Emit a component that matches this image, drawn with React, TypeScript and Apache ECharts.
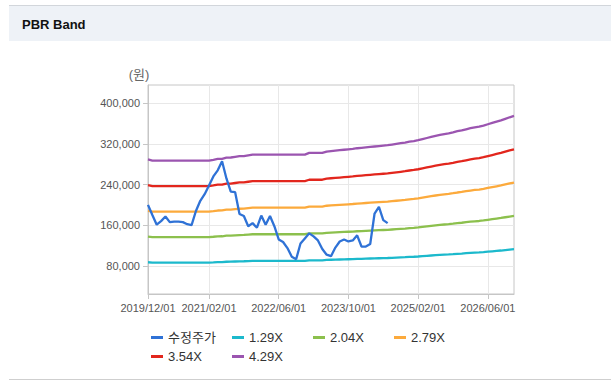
import React, { useEffect, useRef } from "react";
import * as echarts from "echarts";

// Monthly categories (x axis)
const months: string[] = [
  "2019/12/01",
  "2020/01/01","2020/02/01","2020/03/01","2020/04/01","2020/05/01","2020/06/01","2020/07/01","2020/08/01","2020/09/01","2020/10/01","2020/11/01","2020/12/01",
  "2021/01/01","2021/02/01","2021/03/01","2021/04/01","2021/05/01","2021/06/01","2021/07/01","2021/08/01","2021/09/01","2021/10/01","2021/11/01","2021/12/01",
  "2022/01/01","2022/02/01","2022/03/01","2022/04/01","2022/05/01","2022/06/01","2022/07/01","2022/08/01","2022/09/01","2022/10/01","2022/11/01","2022/12/01",
  "2023/01/01","2023/02/01","2023/03/01","2023/04/01","2023/05/01","2023/06/01","2023/07/01","2023/08/01","2023/09/01","2023/10/01","2023/11/01","2023/12/01",
  "2024/01/01","2024/02/01","2024/03/01","2024/04/01","2024/05/01","2024/06/01","2024/07/01","2024/08/01","2024/09/01","2024/10/01","2024/11/01","2024/12/01",
  "2025/01/01","2025/02/01","2025/03/01","2025/04/01","2025/05/01","2025/06/01","2025/07/01","2025/08/01","2025/09/01","2025/10/01","2025/11/01","2025/12/01",
  "2026/01/01","2026/02/01","2026/03/01","2026/04/01","2026/05/01","2026/06/01","2026/07/01","2026/08/01","2026/09/01","2026/10/01","2026/11/01","2026/12/01",
];

// Tick labels shown on the x axis
const xTickLabels: string[] = ["2019/12/01", "2021/02/01", "2022/06/01", "2023/10/01", "2025/02/01", "2026/06/01"];

// Y axis tick labels (원)
const yTicks: number[] = [80000, 160000, 240000, 320000, 400000];

// Adjusted stock price (수정주가), monthly
const price: number[] = [
  200000, 180000, 161000, 168000, 177000, 166000, 167000, 167000, 166000, 162000,
  160000, 188000, 208000, 221000, 238000, 256000, 268000, 286000, 252000, 226000,
  225000, 182000, 178000, 158000, 164000, 155000, 179000, 161000, 178000, 158000,
  132000, 127000, 115000, 98000, 93000, 124000, 134000, 144000, 138000, 130000,
  113000, 102000, 99000, 116000, 128000, 132000, 128000, 130000, 140000, 118000,
  118000, 123000, 183000, 196000, 170000, 164000,
];

// BPS (book value per share) path behind the bands, monthly
const bps: number[] = [
  67500, 66950, 66950, 66950, 66950, 66950, 66950, 66950, 66950, 66950,
  66950, 66950, 66950, 66950, 66950, 67300, 67700, 67750, 68300, 68350,
  68650, 68950, 69000, 69350, 69700, 69700, 69700, 69700, 69700, 69700,
  69700, 69700, 69700, 69700, 69700, 69700, 69700, 70470, 70470, 70470,
  70470, 71070, 71300, 71500, 71700, 71900, 72100, 72300, 72600, 72800,
  73000, 73200, 73400, 73600, 73800, 74000, 74300, 74600, 74900, 75200,
  75600, 75900, 76300, 76800, 77300, 77800, 78300, 78700, 79100, 79450,
  79900, 80400, 80800, 81300, 81800, 82200, 82500, 83000, 83600, 84200,
  84800, 85400, 86100, 86800, 87400,
];

// PBR multiples of the bands
const multiples: number[] = [1.29, 2.04, 2.79, 3.54, 4.29];
const bandColors: string[] = ["#1cb9cc", "#8cc04d", "#fcaa3c", "#e2261d", "#9b55b0"];
const priceName = "수정주가";
const priceColor = "#2f72d6";

const FONT = '"Liberation Sans", Arial, "Noto Sans CJK KR", sans-serif';

export default function App() {
  const ref = useRef<HTMLDivElement>(null);

  useEffect(() => {
    if (!ref.current) return;
    const chart = echarts.init(ref.current, undefined, { renderer: "svg" });

    const tickIdx = new Set(xTickLabels.map((d) => months.indexOf(d)));
    const showTick = (i: number) => tickIdx.has(i);

    const bandNames = multiples.map((m) => m.toFixed(2) + "X");

    const bandSeries = multiples.map((m, k) => ({
      name: bandNames[k],
      type: "line",
      data: bps.map((b) => Math.round(b * m)),
      symbol: "none",
      z: 2,
      lineStyle: { width: 2.3, color: bandColors[k] },
      itemStyle: { color: bandColors[k] },
    }));

    chart.setOption({
      animation: false,
      textStyle: { fontFamily: FONT },
      grid: {
        left: 148,
        top: 85,
        right: 97,
        bottom: 89,
        show: true,
        borderColor: "#c6c6c6",
        borderWidth: 1,
      },
      legend: {
        left: 146,
        top: 326,
        width: 330,
        itemGap: 6,
        icon: "rect",
        itemWidth: 12,
        itemHeight: 3,
        data: [priceName, ...bandNames],
        textStyle: {
          fontSize: 13,
          color: "#333",
          width: 58,
          lineHeight: 11,
          fontFamily: FONT,
        },
      },
      xAxis: {
        type: "category",
        data: months,
        boundaryGap: false,
        axisLine: { show: true, lineStyle: { color: "#c6c6c6" } },
        axisTick: { show: true, interval: showTick, length: 5, lineStyle: { color: "#c6c6c6" } },
        axisLabel: {
          interval: showTick,
          color: "#555",
          fontSize: 11,
          margin: 8,
          fontFamily: FONT,
        },
        splitLine: { show: true, interval: showTick, lineStyle: { color: "#e8e8e8" } },
      },
      yAxis: {
        type: "value",
        min: 24600,
        max: 435900,
        axisLine: { show: true, lineStyle: { color: "#c6c6c6" } },
        axisTick: { show: true, customValues: yTicks, length: 5, lineStyle: { color: "#c6c6c6" } },
        axisLabel: {
          customValues: yTicks,
          color: "#555",
          fontSize: 11,
          margin: 8,
          fontFamily: FONT,
          formatter: (v: number) => v.toLocaleString("en-US"),
        },
        splitLine: { show: true, lineStyle: { color: "#e8e8e8" } },
      },
      graphic: [
        {
          type: "rect",
          z: -10,
          shape: { x: 9, y: 5, width: 602, height: 36 },
          style: { fill: "#eef2f7" },
        },
        {
          type: "line",
          shape: { x1: 9, y1: 5.5, x2: 611, y2: 5.5 },
          style: { stroke: "#d2d6db", lineWidth: 1 },
        },
        {
          type: "line",
          shape: { x1: 9, y1: 379.5, x2: 611, y2: 379.5 },
          style: { stroke: "#cfcfcf", lineWidth: 1 },
        },
        {
          type: "text",
          x: 22,
          y: 24,
          style: {
            text: "PBR Band",
            font: 'bold 13px "Liberation Sans", Arial, sans-serif',
            fill: "#111",
            verticalAlign: "middle",
          },
        },
        {
          type: "text",
          x: 139,
          y: 74,
          style: {
            text: "(원)",
            font: '13px "Liberation Sans", "Noto Sans CJK KR", sans-serif',
            fill: "#666",
            align: "center",
            verticalAlign: "middle",
          },
        },
      ],
      series: [
        {
          name: priceName,
          type: "line",
          data: price,
          symbol: "none",
          z: 3,
          lineStyle: { width: 2.3, color: priceColor },
          itemStyle: { color: priceColor },
        },
        ...bandSeries,
      ],
    });

    return () => chart.dispose();
  }, []);

  return (
    <div
      style={{ position: "fixed", left: 0, top: 0, width: 611, height: 383, background: "#fff" }}
    >
      <div ref={ref} style={{ width: 611, height: 383 }} />
    </div>
  );
}
